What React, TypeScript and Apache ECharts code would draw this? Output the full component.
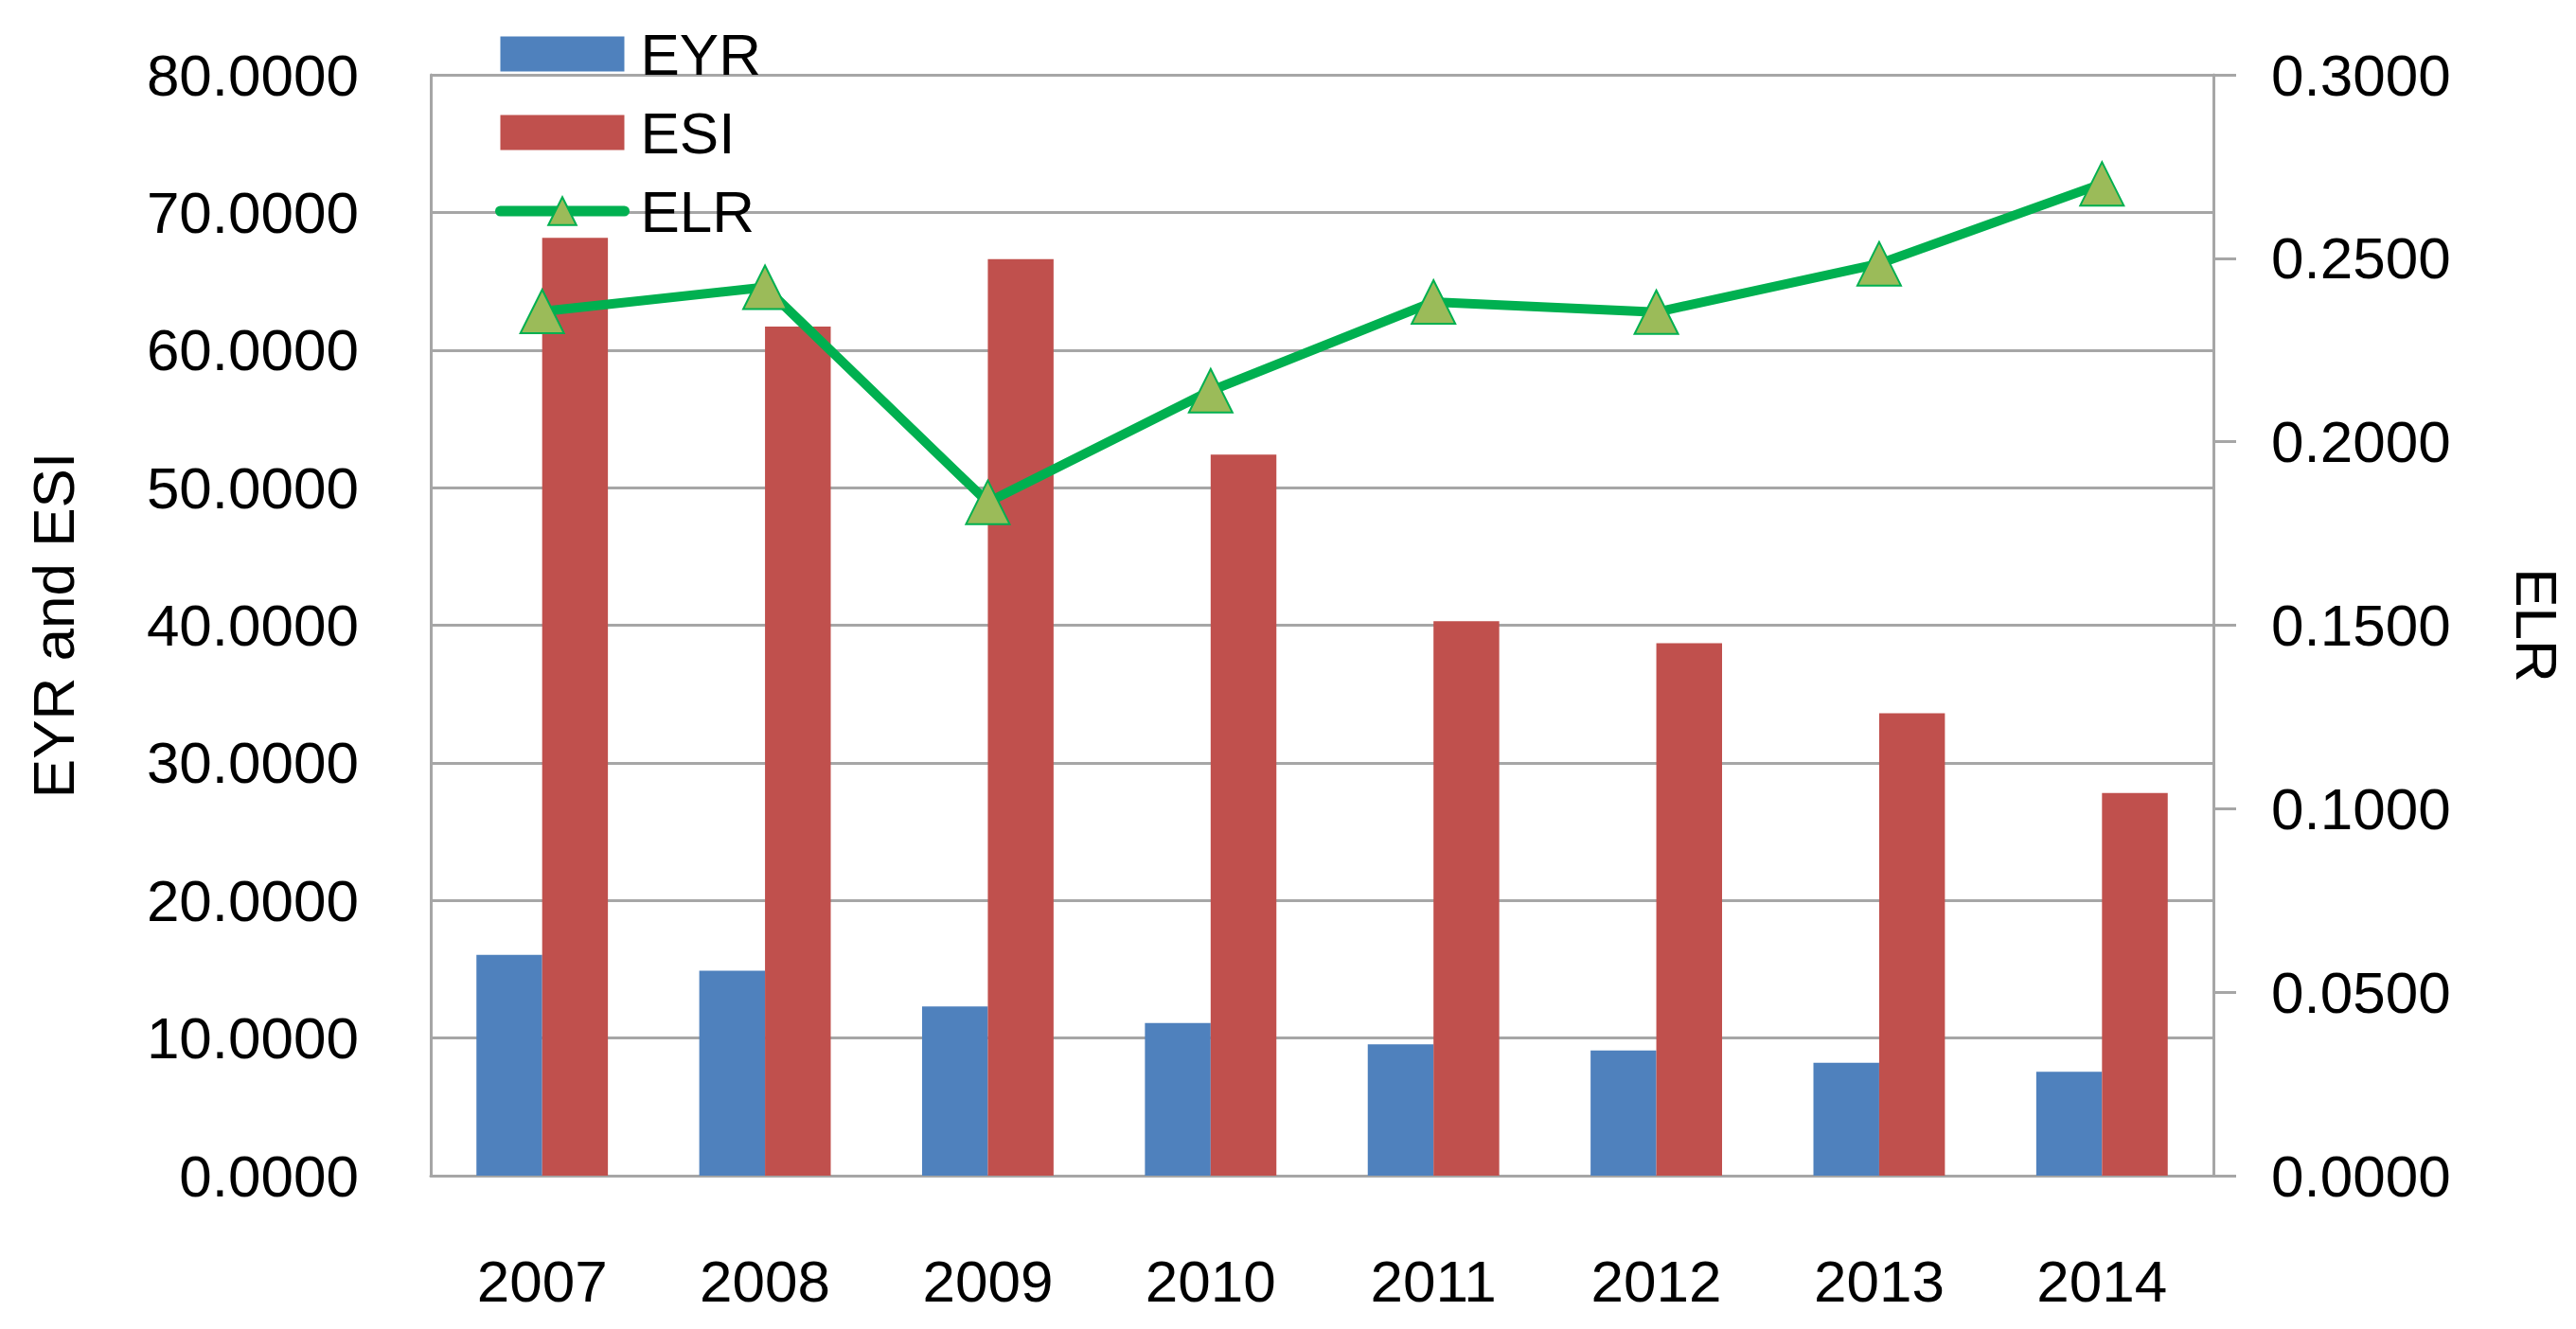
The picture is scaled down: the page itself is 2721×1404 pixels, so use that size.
import React, { useEffect, useRef } from "react";
import * as echarts from "echarts";

const years = ["2007", "2008", "2009", "2010", "2011", "2012", "2013", "2014"];
const eyr = [16.05, 14.9, 12.3, 11.1, 9.55, 9.1, 8.2, 7.55];
const esi = [68.15, 61.7, 66.6, 52.4, 40.3, 38.7, 33.6, 27.8];
const elr = [0.2355, 0.2421, 0.1835, 0.2139, 0.2381, 0.2353, 0.2485, 0.2703];

const FONT = "'Liberation Sans', Arial, sans-serif";
const GRID_COLOR = "#A6A6A6";

export default function App() {
  const ref = useRef<HTMLDivElement>(null);
  useEffect(() => {
    if (!ref.current) return;
    const chart = echarts.init(ref.current, undefined, { renderer: "svg" });
    chart.setOption({
      animation: false,
      backgroundColor: "#ffffff",
      textStyle: { fontFamily: FONT, color: "#000" },
      grid: { left: 455, right: 383, top: 79, bottom: 162, containLabel: false },
      legend: {
        orient: "vertical",
        left: 518,
        top: 21,
        itemWidth: 131,
        itemHeight: 37,
        itemGap: 21,
        textStyle: { fontFamily: FONT, fontSize: 62, color: "#000", padding: [0, 0, 0, 12] },
        data: [
          { name: "EYR", icon: "rect" },
          { name: "ESI", icon: "rect" },
          { name: "ELR", lineStyle: { width: 11, color: "#00B050", cap: "round" } },
        ],
      },
      xAxis: {
        type: "category",
        data: years,
        axisTick: { show: false },
        axisLine: { lineStyle: { color: GRID_COLOR, width: 3 } },
        axisLabel: { fontFamily: FONT, fontSize: 62, color: "#000", margin: 80 },
      },
      yAxis: [
        {
          type: "value",
          min: 0,
          max: 80,
          interval: 10,
          name: "EYR and ESI",
          nameLocation: "middle",
          nameGap: 368,
          nameTextStyle: { fontFamily: FONT, fontSize: 62, color: "#000" },
          axisLine: { show: true, lineStyle: { color: GRID_COLOR, width: 3 } },
          axisTick: { show: false },
          splitLine: { lineStyle: { color: GRID_COLOR, width: 3 } },
          axisLabel: {
            fontFamily: FONT,
            fontSize: 62,
            color: "#000",
            margin: 76,
            formatter: (v: number) => v.toFixed(4),
          },
        },
        {
          type: "value",
          min: 0,
          max: 0.3,
          interval: 0.05,
          position: "right",
          name: "ELR",
          nameLocation: "middle",
          nameGap: 310,
          nameRotate: -90,
          nameTextStyle: { fontFamily: FONT, fontSize: 62, color: "#000" },
          axisLine: { show: true, lineStyle: { color: GRID_COLOR, width: 3 } },
          axisTick: { show: true, inside: false, length: 24, lineStyle: { color: GRID_COLOR, width: 3 } },
          splitLine: { show: false },
          axisLabel: {
            fontFamily: FONT,
            fontSize: 62,
            color: "#000",
            margin: 61,
            formatter: (v: number) => v.toFixed(4),
          },
        },
      ],
      series: [
        {
          name: "EYR",
          type: "bar",
          data: eyr,
          yAxisIndex: 0,
          barGap: "0%",
          barCategoryGap: "41%",
          itemStyle: { color: "#4F81BD" },
        },
        {
          name: "ESI",
          type: "bar",
          data: esi,
          yAxisIndex: 0,
          barGap: "0%",
          barCategoryGap: "41%",
          itemStyle: { color: "#C0504D" },
        },
        {
          name: "ELR",
          type: "line",
          data: elr,
          yAxisIndex: 1,
          symbol: "triangle",
          symbolSize: [46, 46],
          z: 5,
          lineStyle: { color: "#00B050", width: 10 },
          itemStyle: { color: "#9BBB59", borderColor: "#00B050", borderWidth: 2 },
        },
      ],
    });
    return () => chart.dispose();
  }, []);
  return (
    <div
      ref={ref}
      style={{ position: "fixed", left: 0, top: 0, width: 2721, height: 1404, background: "#fff" }}
    />
  );
}
